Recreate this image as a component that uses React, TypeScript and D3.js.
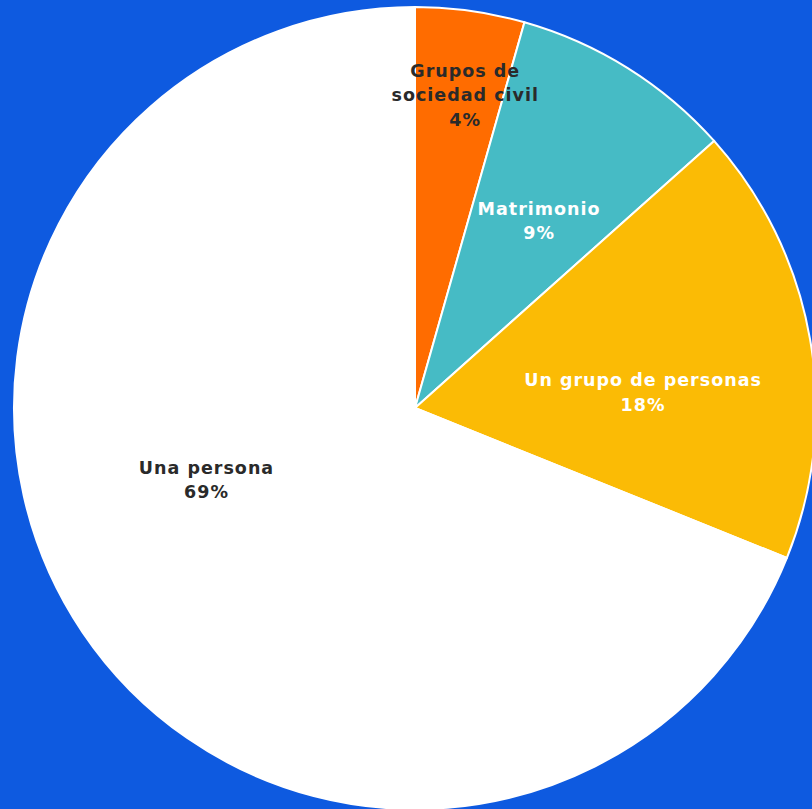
import React from "react";
import * as d3 from "d3";

const categories = ["Grupos de sociedad civil", "Matrimonio", "Un grupo de personas", "Una persona"];
const labelLines = [["Grupos de", "sociedad civil"], ["Matrimonio"], ["Un grupo de personas"], ["Una persona"]];
const values = [4.4, 9.0, 17.7, 68.9];
const percentLabels = ["4%", "9%", "18%", "69%"];
const colors = ["#ff6c00", "#46bbc5", "#fbbb05", "#ffffff"];
const textColors = ["#2a2a2a", "#ffffff", "#ffffff", "#2a2a2a"];

const W = 812, H = 809;
const CX = 415, CY = 408, R = 401;
// label placement: radius factor and angle nudge (deg) per slice
const labelRadius = [0.79, 0.56, 0.57, 0.55];
const labelAngleNudge = [1.2, 1.5, 6, 15];

export default function App() {
  const pie = d3.pie<number>().sort(null).value((d) => d)(values);
  const arc = d3.arc<d3.PieArcDatum<number>>().innerRadius(0).outerRadius(R);
  const font = "'DejaVu Sans', sans-serif";
  return (
    <svg width={W} height={H} style={{ position: "absolute", left: 0, top: 0, display: "block" }}>
      <rect width={W} height={H} fill="#0e5ae0" />
      <g transform={`translate(${CX},${CY})`}>
        {pie.map((p, i) => (
          <path key={categories[i]} d={arc(p) || ""} fill={colors[i]} stroke="#ffffff" strokeWidth={2} strokeLinejoin="round" />
        ))}
        {pie.map((p, i) => {
          const a = (p.startAngle + p.endAngle) / 2 + (labelAngleNudge[i] * Math.PI) / 180;
          const r = R * labelRadius[i];
          const x = Math.sin(a) * r;
          const y = -Math.cos(a) * r;
          const lines = [...labelLines[i], percentLabels[i]];
          const lh = 24.5;
          const y0 = y - ((lines.length - 1) * lh) / 2;
          return (
            <text key={"t" + i} x={x} y={y0} textAnchor="middle" dominantBaseline="central"
              fontFamily={font} fontWeight="bold" fontSize={17.5} letterSpacing={1} fill={textColors[i]}>
              {lines.map((l, j) => (
                <tspan key={j} x={x} y={y0 + j * lh}>{l}</tspan>
              ))}
            </text>
          );
        })}
      </g>
    </svg>
  );
}
